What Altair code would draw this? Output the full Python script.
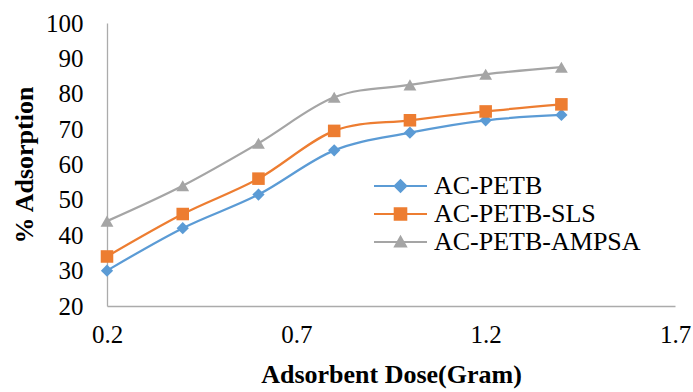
import altair as alt
import pandas as pd

dose = [0.2, 0.4, 0.6, 0.8, 1.0, 1.2, 1.4]
petb = [30, 42, 51.5, 64, 69, 72.5, 74]
sls = [34, 46, 56, 69.5, 72.5, 75, 77]
ampsa = [44, 54, 66, 79, 82.5, 85.5, 87.5]
series = ["AC-PETB", "AC-PETB-SLS", "AC-PETB-AMPSA"]
colors = ["#5B9BD5", "#ED7D31", "#A5A5A5"]
x_ticks = [0.2, 0.7, 1.2, 1.7]
y_ticks = [20, 30, 40, 50, 60, 70, 80, 90, 100]

rows = []
for name, vals in zip(series, [petb, sls, ampsa]):
    for d, v in zip(dose, vals):
        rows.append({"dose": d, "value": v, "series": name})
df = pd.DataFrame(rows)

FONT = "Liberation Serif"

# legend symbols: line segment with marker (custom SVG paths)
LINE = "M-4.3,-0.11H1V0.11H-4.3Z"
legend_paths = [
    LINE + "M-1.65,-0.72L-0.93,0L-1.65,0.72L-2.37,0Z",
    LINE + "M-2.33,-0.68H-0.97V0.68H-2.33Z",
    LINE + "M-1.65,-0.72L-0.93,0.56L-2.37,0.56Z",
]

x_enc = alt.X(
    "dose:Q",
    scale=alt.Scale(domain=[0.2, 1.7], nice=False, zero=False),
    axis=alt.Axis(values=x_ticks, format=".1f", title="Adsorbent Dose(Gram)",
                  labelPadding=16, titlePadding=14, labelFlush=False,
                  labelOverlap=False),
)
y_enc = alt.Y(
    "value:Q",
    scale=alt.Scale(domain=[20, 100], nice=False, zero=False),
    axis=alt.Axis(values=y_ticks, title="% Adsorption", labelPadding=24,
                  titlePadding=8, labelFlush=False, labelOverlap=False),
)

def color_enc(legend):
    return alt.Color("series:N", scale=alt.Scale(domain=series, range=colors),
                     legend=legend, sort=series)

base = alt.Chart(df)

lines = base.mark_line(interpolate="cardinal", strokeWidth=2.25).encode(
    x=x_enc, y=y_enc, color=color_enc(None), detail="series:N"
)

points = base.mark_point(filled=True, opacity=1).encode(
    x=x_enc, y=y_enc, color=color_enc(None),
    shape=alt.Shape("series:N", scale=alt.Scale(domain=series,
                    range=["diamond", "square", "triangle-up"]), legend=None),
    size=alt.Size("series:N", scale=alt.Scale(domain=series, range=[150, 165, 160]),
                  legend=None),
)

leg = dict(title=None, orient="none", legendX=297, legendY=150,
           symbolSize=400, symbolStrokeWidth=0, padding=0,
           labelOffset=4, rowPadding=2)

legend_layer = base.mark_point(filled=True, opacity=1, size=400).encode(
    x=x_enc, y=y_enc,
    color=color_enc(alt.Legend(**leg)),
    shape=alt.Shape("series:N", scale=alt.Scale(domain=series, range=legend_paths),
                    legend=alt.Legend(**leg)),
).transform_filter("false")

chart = alt.layer(lines, points, legend_layer).resolve_scale(
    color="independent", shape="independent"
).properties(
    width=568, height=283,
    autosize=alt.AutoSizeParams(type="none"),
    padding={"left": 107, "top": 23, "right": 18, "bottom": 86},
    background="white",
).configure_view(stroke=None).configure_axis(
    grid=False, ticks=False, tickSize=0, domainColor="#ABABAB", domainWidth=1.3,
    labelFont=FONT, labelFontSize=25, labelColor="black",
    titleFont=FONT, titleFontSize=26, titleFontWeight="bold", titleColor="black",
).configure_legend(
    labelFont=FONT, labelFontSize=26, labelColor="black", labelLimit=400,
)

chart.save("out.html", embed_options={"renderer": "svg", "actions": False})
